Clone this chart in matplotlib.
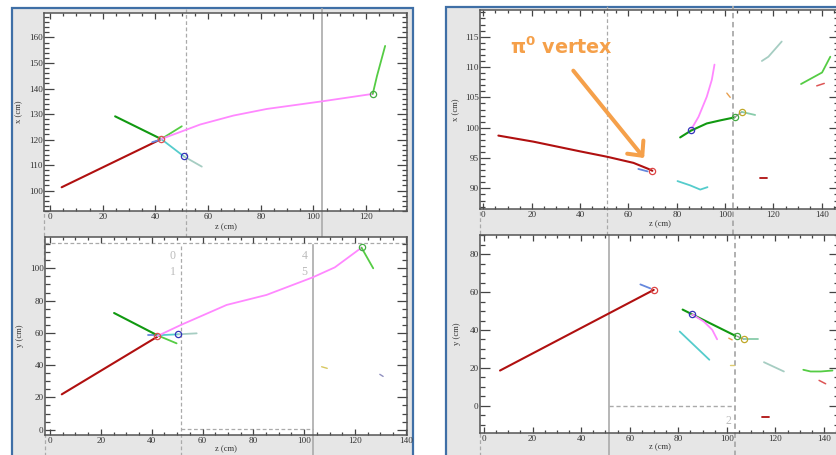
import matplotlib
matplotlib.use("Agg")
import matplotlib.pyplot as plt
from matplotlib.patches import Rectangle
from matplotlib.ticker import MultipleLocator

# ---- left event, x-z view
lxz_red_z = [4.4, 42.2]
lxz_red_x = [101.3, 120.2]
lxz_blue_z = [38.8, 41.5]
lxz_blue_x = [119.0, 119.8]
lxz_dkgreen_z = [24.7, 42.2]
lxz_dkgreen_x = [129.1, 120.2]
lxz_ltgreen_z = [42.2, 50.0]
lxz_ltgreen_x = [120.2, 125.2]
lxz_cyan_z = [42.2, 50.8]
lxz_cyan_x = [120.2, 113.4]
lxz_grey_z = [50.8, 57.6]
lxz_grey_x = [113.4, 109.4]
lxz_pink_z = [42.2, 50.0, 57.0, 69.6, 82.3, 103.4, 122.5]
lxz_pink_x = [120.2, 123.2, 125.9, 129.4, 132.0, 135.0, 137.9]
lxz_green_z = [122.5, 124.1, 127.2]
lxz_green_x = [137.9, 144.9, 156.7]
lxz_vtx_z = [42.2, 50.8, 122.5]
lxz_vtx_x = [120.2, 113.4, 137.9]

# ---- left event, y-z view
lyz_red_z = [4.6, 42.2]
lyz_red_y = [21.9, 57.6]
lyz_blue_z = [38.7, 42.5]
lyz_blue_y = [58.5, 58.5]
lyz_dkgreen_z = [25.2, 42.2]
lyz_dkgreen_y = [72.3, 58.5]
lyz_ltgreen_z = [42.2, 49.8]
lyz_ltgreen_y = [58.5, 53.5]
lyz_cyan_z = [42.2, 50.5]
lyz_cyan_y = [58.5, 59.1]
lyz_grey_z = [50.5, 57.7]
lyz_grey_y = [59.1, 59.7]
lyz_pink_z = [42.2, 51.5, 69.5, 85.2, 103.4, 112.1, 122.6]
lyz_pink_y = [58.0, 64.9, 77.3, 83.5, 94.4, 100.6, 112.8]
lyz_green_z = [122.6, 127.2]
lyz_green_y = [112.8, 100.0]
lyz_yellow_z = [106.9, 109.1]
lyz_yellow_y = [39.0, 38.0]
lyz_purple_z = [129.8, 131.1]
lyz_purple_y = [34.3, 33.0]
lyz_vtx_z = [42.2, 50.5, 122.6]
lyz_vtx_y = [57.8, 59.1, 113.0]

# ---- right event, x-z view
rxz_red_z = [6.2, 20.7, 40.0, 51.3, 62.1, 68.3, 69.9]
rxz_red_x = [98.7, 97.7, 96.1, 95.2, 94.2, 93.2, 92.9]
rxz_blue_z = [64.1, 67.9]
rxz_blue_x = [93.2, 92.8]
rxz_pink_z = [85.8, 89.0, 92.4, 94.5, 95.6]
rxz_pink_x = [99.6, 101.8, 105.1, 107.9, 110.4]
rxz_dkgreen_z = [81.4, 85.8, 92.4, 97.9, 103.9]
rxz_dkgreen_x = [98.4, 99.5, 100.7, 101.2, 101.7]
rxz_link_z = [103.9, 106.9]
rxz_link_x = [101.7, 102.6]
rxz_teal_z = [106.9, 112.4]
rxz_teal_x = [102.6, 102.1]
rxz_orange_z = [100.7, 102.1]
rxz_orange_x = [105.7, 105.0]
rxz_cyan_z = [80.3, 85.5, 89.7, 92.7]
rxz_cyan_x = [91.2, 90.5, 89.8, 90.2]
rxz_grey_z = [115.2, 117.9, 123.4]
rxz_grey_x = [111.0, 111.7, 114.2]
rxz_green_z = [131.4, 140.1, 143.5]
rxz_green_x = [107.2, 109.1, 111.7]
rxz_ltred_z = [137.9, 141.0]
rxz_ltred_x = [106.9, 107.3]
rxz_dash_z = [114.5, 117.2]
rxz_dash_x = [91.7, 91.7]
rxz_vtx_z = [69.9, 85.8, 103.9, 106.9]
rxz_vtx_x = [92.9, 99.6, 101.7, 102.6]

# ---- right event, y-z view
ryz_red_z = [6.6, 69.9]
ryz_red_y = [18.6, 61.2]
ryz_blue_z = [64.4, 68.5]
ryz_blue_y = [64.1, 62.0]
ryz_dkgreen_z = [81.8, 85.7, 103.6]
ryz_dkgreen_y = [50.8, 48.3, 36.9]
ryz_pink_z = [85.7, 90.5, 94.0, 96.0]
ryz_pink_y = [48.3, 44.5, 40.1, 35.1]
ryz_link_z = [104.3, 107.0]
ryz_link_y = [36.7, 35.1]
ryz_teal_z = [107.0, 112.8]
ryz_teal_y = [35.1, 35.1]
ryz_orange_z = [100.8, 102.2]
ryz_orange_y = [35.7, 34.8]
ryz_yellow_z = [101.2, 102.9]
ryz_yellow_y = [21.6, 21.6]
ryz_cyan_z = [80.6, 92.8]
ryz_cyan_y = [39.2, 24.3]
ryz_grey_z = [115.3, 123.5]
ryz_grey_y = [23.0, 18.1]
ryz_green_z = [131.5, 134.5, 138.7, 143.5]
ryz_green_y = [19.0, 18.1, 18.1, 18.6]
ryz_ltred_z = [138.0, 140.7]
ryz_ltred_y = [13.4, 11.6]
ryz_dash_z = [114.6, 117.3]
ryz_dash_y = [-6.0, -6.0]
ryz_vtx_z = [69.9, 85.7, 104.3, 107.0]
ryz_vtx_y = [61.2, 48.3, 36.7, 35.1]

# pi0 vertex callout (text anchor, arrow tail, arrow tip) in x-z coordinates
pi0_label_zx = (11.0, 112.1)
pi0_tail_zx = (37.2, 109.4)
pi0_tip_zx = (66.5, 95.0)

# detector plane positions along z
plane_a = 51.5
plane_b = 103.4

W, H = 836, 455
DARKRED = "#b01010"
DKGREEN = "#119911"
LTGREEN = "#55cc44"
CYAN = "#55cccc"
GREYTEAL = "#a6cdc2"
PINK = "#ff88ff"
BLUE = "#6688dd"
PLANE = "#aaaaaa"
ORANGE = "#f5a04a"
SERIF = "Liberation Serif"

fig = plt.figure(figsize=(W / 100, H / 100), dpi=100)


def px_box(left, top, right, bottom):
    return [left / W, 1 - bottom / H, (right - left) / W, (bottom - top) / H]


# grey panel backgrounds with blue frames
for x0, y0 in [(12, 8), (446, 7)]:
    fig.patches.append(Rectangle((x0 / W, -0.1), 401 / W, 1.1 - y0 / H,
                                 transform=fig.transFigure, facecolor="#e6e6e6",
                                 edgecolor="#3f6fa6", linewidth=1.6, zorder=-10))


def setup(ax, xlim, ylim, ymaj, ymin, ylabel, ylab_px, xlab_px, left_px, bottom_px, height_px):
    ax.set_xlim(*xlim)
    ax.set_ylim(*ylim)
    ax.set_facecolor("white")
    ax.xaxis.set_major_locator(MultipleLocator(20))
    ax.xaxis.set_minor_locator(MultipleLocator(5))
    ax.yaxis.set_major_locator(MultipleLocator(ymaj))
    ax.yaxis.set_minor_locator(MultipleLocator(ymin))
    ax.tick_params(which="both", direction="in", top=True, right=True,
                   colors="#444444", labelcolor="#333333", width=0.9)
    ax.tick_params(axis="x", which="major", length=4.5, pad=1.5, labelsize=6.6)
    ax.tick_params(axis="x", which="minor", length=2.5)
    ax.tick_params(axis="y", which="major", length=7.5, pad=1, labelsize=6.6)
    ax.tick_params(axis="y", which="minor", length=3.5)
    for lab in ax.get_xticklabels() + ax.get_yticklabels():
        lab.set_family(SERIF)
    for sp in ax.spines.values():
        sp.set_color("#555555")
        sp.set_linewidth(1.1)
    ax.set_xlabel("z (cm)", family=SERIF, fontsize=6.2, color="#333333")
    ax.set_ylabel(ylabel, family=SERIF, fontsize=6.2, color="#333333")
    width_px = ax.get_position().width * W
    ax.xaxis.set_label_coords(0.5, -(xlab_px - bottom_px - 4) / height_px)
    ax.yaxis.set_label_coords(-(left_px - ylab_px - 4) / width_px, 0.5)
    # projection of the upstream edge outside the frame
    ax.plot([0, 0], [-0.25, 0], transform=ax.transAxes, color=PLANE, lw=0.9,
            ls=(0, (3, 2)), clip_on=False, zorder=0.5)


def vline(ax, z, y0, y1, dashed=True, lw=0.9):
    ax.plot([z, z], [y0, y1], transform=ax.get_xaxis_transform(), color=PLANE,
            lw=lw, ls=(0, (3, 2)) if dashed else "-", clip_on=False, zorder=1)


def track(ax, z, v, color, lw=1.3):
    ax.plot(z, v, color=color, lw=lw, solid_capstyle="round", zorder=3)


def vertices(ax, z, v, colors):
    for zi, vi, c in zip(z, v, colors):
        ax.plot(zi, vi, "o", mfc="none", mec=c, ms=4.5, mew=0.9, zorder=4)


# ---------------- left event ----------------
ax1 = fig.add_axes(px_box(44, 13, 407, 211))
setup(ax1, (-2.3, 135.5), (92, 169.6), 10, 2, "x (cm)", 19, 227, 44, 211, 198)
vline(ax1, plane_a, -0.13, 1.02)
vline(ax1, plane_b, -0.13, 1.02, dashed=False, lw=1.2)
track(ax1, lxz_red_z, lxz_red_x, DARKRED, 1.5)
track(ax1, lxz_blue_z, lxz_blue_x, BLUE)
track(ax1, lxz_dkgreen_z, lxz_dkgreen_x, DKGREEN, 1.5)
track(ax1, lxz_ltgreen_z, lxz_ltgreen_x, LTGREEN)
track(ax1, lxz_cyan_z, lxz_cyan_x, CYAN)
track(ax1, lxz_grey_z, lxz_grey_x, GREYTEAL)
track(ax1, lxz_pink_z, lxz_pink_x, PINK)
track(ax1, lxz_green_z, lxz_green_x, LTGREEN)
vertices(ax1, lxz_vtx_z, lxz_vtx_x, ["#e05050", "#3333bb", "#44aa44"])

ax2 = fig.add_axes(px_box(45, 237, 407, 435))
setup(ax2, (-2, 140.5), (-3.3, 119.4), 20, 5, "y (cm)", 20, 449, 45, 435, 198)
vline(ax2, plane_a, -0.3, 0.96)
vline(ax2, plane_b, -0.3, 0.96, dashed=False, lw=1.2)
ax2.axhline(115.5, color=PLANE, lw=0.9, ls=(0, (3, 2)), zorder=1)
ax2.plot([plane_a, plane_b], [0.4, 0.4], color=PLANE, lw=0.9, ls=(0, (3, 2)), zorder=1)
for txt, z, y in [("0", plane_a - 2, 107.8), ("1", plane_a - 2, 97.5),
                  ("4", plane_b - 2, 107.8), ("5", plane_b - 2, 97.9)]:
    ax2.text(z, y, txt, ha="right", va="center", family=SERIF, fontsize=8.5, color="#bbbbbb")
track(ax2, lyz_red_z, lyz_red_y, DARKRED, 1.5)
track(ax2, lyz_blue_z, lyz_blue_y, BLUE)
track(ax2, lyz_dkgreen_z, lyz_dkgreen_y, DKGREEN, 1.5)
track(ax2, lyz_ltgreen_z, lyz_ltgreen_y, LTGREEN)
track(ax2, lyz_cyan_z, lyz_cyan_y, CYAN)
track(ax2, lyz_grey_z, lyz_grey_y, GREYTEAL)
track(ax2, lyz_pink_z, lyz_pink_y, PINK)
track(ax2, lyz_green_z, lyz_green_y, LTGREEN)
track(ax2, lyz_yellow_z, lyz_yellow_y, "#d8c860", 1.0)
track(ax2, lyz_purple_z, lyz_purple_y, "#9090c0", 1.0)
vertices(ax2, lyz_vtx_z, lyz_vtx_y, ["#e05050", "#3333bb", "#44aa44"])

# ---------------- right event ----------------
ax3 = fig.add_axes(px_box(480, 10, 839, 209))
setup(ax3, (-1.4, 147.1), (86.6, 119.4), 5, 1, "x (cm)", 456, 224, 480, 209, 199)
vline(ax3, 51.3, -0.13, 1.02)
vline(ax3, plane_b, -0.13, 1.02, lw=1.3)
track(ax3, rxz_red_z, rxz_red_x, DARKRED, 1.5)
track(ax3, rxz_blue_z, rxz_blue_x, BLUE)
track(ax3, rxz_pink_z, rxz_pink_x, PINK)
track(ax3, rxz_dkgreen_z, rxz_dkgreen_x, DKGREEN, 1.5)
track(ax3, rxz_link_z, rxz_link_x, "#999999", 1.0)
track(ax3, rxz_teal_z, rxz_teal_x, "#88ccaa")
track(ax3, rxz_orange_z, rxz_orange_x, "#e8a050", 1.0)
track(ax3, rxz_cyan_z, rxz_cyan_x, CYAN)
track(ax3, rxz_grey_z, rxz_grey_x, GREYTEAL)
track(ax3, rxz_green_z, rxz_green_x, LTGREEN)
track(ax3, rxz_ltred_z, rxz_ltred_x, "#dd5555", 1.1)
track(ax3, rxz_dash_z, rxz_dash_x, DARKRED, 1.3)
vertices(ax3, rxz_vtx_z, rxz_vtx_x, ["#dd4444", "#3333bb", "#44aa44", "#c0a828"])
ax3.text(*pi0_label_zx, r"$\mathbf{\pi^0}$ vertex", fontsize=13.8, fontweight="bold",
         family="DejaVu Sans", color=ORANGE, va="baseline", ha="left", zorder=5)
ax3.annotate("", xy=pi0_tip_zx, xytext=pi0_tail_zx, zorder=5,
             arrowprops=dict(arrowstyle="->,head_length=0.8,head_width=0.75",
                             color=ORANGE, lw=2.9, shrinkA=0, shrinkB=0))

ax4 = fig.add_axes(px_box(480, 235, 839, 433))
setup(ax4, (-1.65, 146.2), (-14.4, 90.2), 20, 5, "y (cm)", 457, 447, 480, 433, 198)
vline(ax4, 51.6, -0.3, 1.0, dashed=False, lw=1.2)
vline(ax4, plane_b, -0.3, 1.0, lw=1.3)
ax4.plot([51.6, plane_b], [0, 0], color=PLANE, lw=1.0, ls=(0, (3, 2)), zorder=1)
ax4.text(plane_b - 1.5, -8.3, "2", ha="right", va="center", family=SERIF, fontsize=8.5, color="#bbbbbb")
track(ax4, ryz_red_z, ryz_red_y, DARKRED, 1.5)
track(ax4, ryz_blue_z, ryz_blue_y, BLUE)
track(ax4, ryz_dkgreen_z, ryz_dkgreen_y, DKGREEN, 1.5)
track(ax4, ryz_pink_z, ryz_pink_y, PINK)
track(ax4, ryz_link_z, ryz_link_y, "#999999", 1.0)
track(ax4, ryz_teal_z, ryz_teal_y, "#88ccaa")
track(ax4, ryz_orange_z, ryz_orange_y, "#e8a050", 1.0)
track(ax4, ryz_yellow_z, ryz_yellow_y, "#e0cc70", 1.0)
track(ax4, ryz_cyan_z, ryz_cyan_y, CYAN)
track(ax4, ryz_grey_z, ryz_grey_y, GREYTEAL)
track(ax4, ryz_green_z, ryz_green_y, LTGREEN)
track(ax4, ryz_ltred_z, ryz_ltred_y, "#dd5555", 1.1)
track(ax4, ryz_dash_z, ryz_dash_y, DARKRED, 1.3)
vertices(ax4, ryz_vtx_z, ryz_vtx_y, ["#dd4444", "#3333bb", "#44aa44", "#c0a828"])

fig.savefig("out.png", dpi=100)
